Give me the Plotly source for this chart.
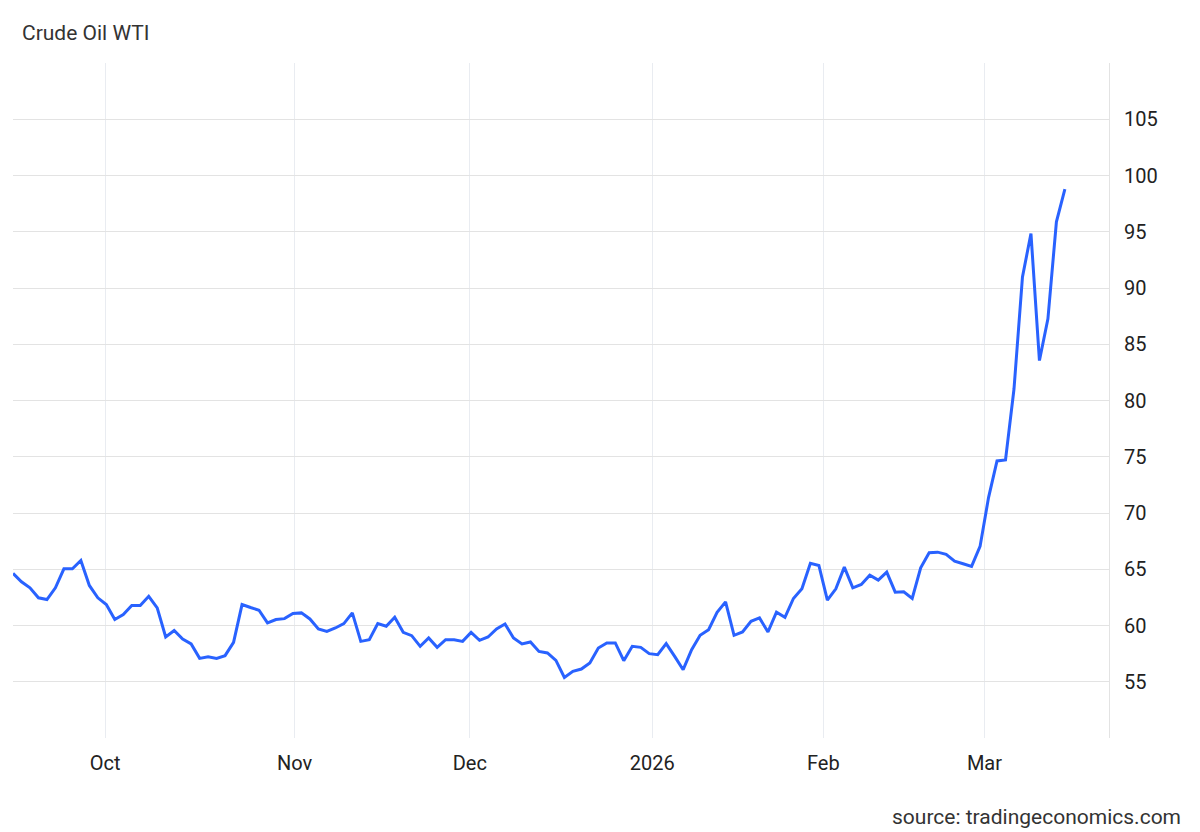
import numpy as np
import pandas as pd
import plotly.graph_objects as go

# ---- data ----
start_date = "2025-09-16"
end_date = "2026-03-13"
holidays = ["2025-12-25", "2026-01-01", "2026-01-19", "2026-02-16"]

values = [
    64.63, 63.88, 63.35, 62.46, 62.31, 63.35, 65.04, 65.04, 65.78, 63.56,
    62.46, 61.86, 60.53, 60.97, 61.77, 61.77, 62.60, 61.57, 58.98, 59.55,
    58.80, 58.36, 57.08, 57.23, 57.08, 57.32, 58.50, 61.86, 61.60, 61.36,
    60.23, 60.53, 60.61, 61.06, 61.12, 60.58, 59.70, 59.48, 59.78, 60.17,
    61.12, 58.59, 58.74, 60.17, 59.93, 60.73, 59.39, 59.10, 58.15, 58.89,
    58.06, 58.74, 58.74, 58.59, 59.39, 58.68, 58.98, 59.70, 60.14, 58.89,
    58.36, 58.54, 57.70, 57.56, 56.90, 55.38, 55.92, 56.13, 56.67, 58.00,
    58.45, 58.45, 56.87, 58.15, 58.06, 57.50, 57.41, 58.39, 57.26, 56.07,
    57.85, 59.13, 59.63, 61.18, 62.10, 59.13, 59.43, 60.37, 60.67, 59.43,
    61.18, 60.73, 62.40, 63.26, 65.52, 65.34, 62.25, 63.26, 65.19, 63.35,
    63.65, 64.47, 64.03, 64.74, 62.96, 62.99, 62.40, 65.13, 66.47, 66.52,
    66.32, 65.72, 65.49, 65.25, 67.03, 71.37, 74.63, 74.72, 81.02, 90.98,
    94.84, 83.55, 87.26, 95.88, 98.79,
]

month_starts = ["2025-10-01", "2025-11-01", "2025-12-01", "2026-01-01", "2026-02-01", "2026-03-01"]
month_labels = ["Oct", "Nov", "Dec", "2026", "Feb", "Mar"]

y_ticks = [50, 55, 60, 65, 70, 75, 80, 85, 90, 95, 100, 105, 110]
y_labels = ["", "55", "60", "65", "70", "75", "80", "85", "90", "95", "100", "105", ""]

# ---- trading-day (ordinal) axis ----
dates = pd.bdate_range(start_date, end_date)
dates = dates[~dates.isin(pd.to_datetime(holidays))]
n = min(len(dates), len(values))
dates = dates[:n]
vals = values[:n]
pos = np.arange(n)

ts = dates.asi8.astype(float)
tick_pos = [float(np.interp(pd.Timestamp(m).value, ts, pos)) - 0.15 for m in month_starts]

fig = go.Figure()
fig.add_trace(go.Scatter(
    x=pos, y=vals, mode="lines",
    line=dict(color="#2962ff", width=3),
    customdata=[d.strftime("%Y-%m-%d") for d in dates],
    hovertemplate="%{customdata}: %{y:.2f}<extra></extra>",
    showlegend=False,
))

fig.update_layout(
    width=1200, height=832,
    margin=dict(l=13, r=91, t=63, b=94),
    paper_bgcolor="white", plot_bgcolor="white",
    font=dict(family="Roboto", size=20, color="#333333"),
    title=dict(text="Crude Oil WTI", x=22 / 1200, xref="container", xanchor="left",
               y=1 - 33 / 832, yref="container", yanchor="middle",
               font=dict(family="Roboto", size=21, color="#333333")),
    annotations=[dict(text="source: tradingeconomics.com", xref="paper", yref="paper",
                      x=(1183 - 13) / (1109 - 13), y=(738 - 817) / 675,
                      xanchor="right", yanchor="middle", showarrow=False,
                      font=dict(family="Roboto", size=21, color="#333333"))],
)
fig.update_xaxes(
    range=[0, 129.2], tickmode="array", tickvals=tick_pos, ticktext=month_labels,
    showgrid=True, gridcolor="#e9ecf1", gridwidth=1, zeroline=False, showline=False,
    ticks="", ticklabelstandoff=11, tickfont=dict(size=20, color="#222222"),
)
fig.update_yaxes(
    side="right", range=[50, 110], tickmode="array", tickvals=y_ticks, ticktext=y_labels,
    showgrid=True, gridcolor="#e3e3e3", gridwidth=1, zeroline=False,
    showline=True, linecolor="#e3e3e3", linewidth=1,
    ticks="", ticklabelstandoff=10, tickfont=dict(size=20, color="#222222"),
)

fig.write_html("out.html")
